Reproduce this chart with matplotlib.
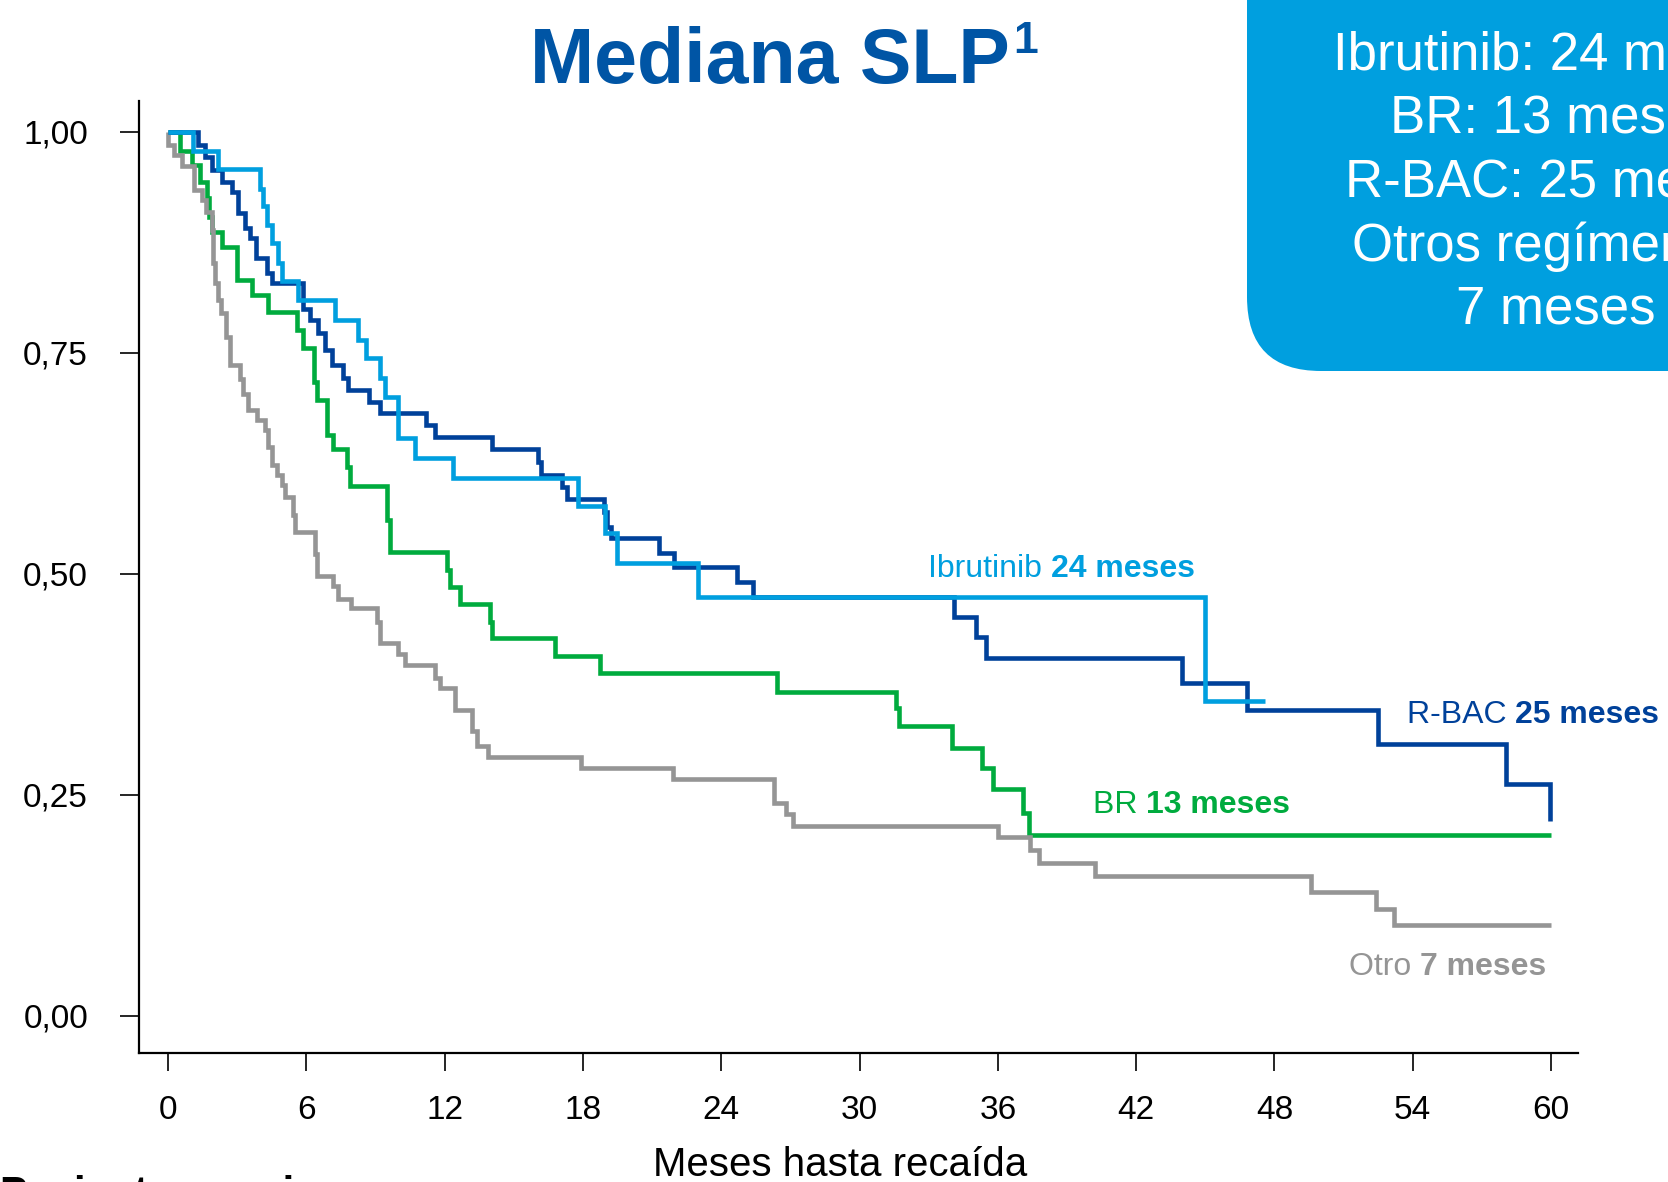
import matplotlib
matplotlib.use('Agg')
import matplotlib.pyplot as plt
from matplotlib.patches import FancyBboxPatch
from matplotlib.transforms import IdentityTransform

plt.rcParams['font.family'] = ['Liberation Sans', 'DejaVu Sans']

# grupos de tratamiento y medianas de SLP (meses)
grupos = ['Ibrutinib', 'BR', 'R-BAC', 'Otro']
medianas = [24, 13, 25, 7]

# curvas de Kaplan-Meier: tiempo de cada caída (meses) y supervivencia tras ella
ibr_t = [0, 1.08, 2.17, 3.99, 4.14, 4.31, 4.53, 4.76, 4.93, 5.65, 7.25, 8.26,
         8.6, 9.2, 9.41, 9.99, 10.72, 12.38, 17.8, 18.96, 19.5, 23.0, 45.0]
ibr_s = [1.0, 0.978, 0.958, 0.936, 0.916, 0.895, 0.874, 0.852, 0.831, 0.810,
         0.787, 0.765, 0.744, 0.722, 0.700, 0.654, 0.631, 0.608, 0.577, 0.546,
         0.512, 0.474, 0.356]
ibr_fin = 47.6

rbac_t = [0, 1.3, 1.6, 1.9, 2.34, 2.78, 3.04, 3.34, 3.56, 3.8, 4.3, 4.5, 5.86,
          6.16, 6.5, 6.8, 7.1, 7.6, 7.8, 8.7, 9.2, 11.2, 11.6, 14.06, 16.05,
          16.2, 17.1, 17.3, 18.9, 19.05, 19.2, 21.3, 21.95, 24.7, 25.4, 34.1,
          35.05, 35.5, 44.0, 46.8, 52.5, 58.05, 59.96]
rbac_s = [1.0, 0.985, 0.972, 0.957, 0.943, 0.932, 0.908, 0.891, 0.880, 0.857,
          0.840, 0.829, 0.800, 0.787, 0.773, 0.753, 0.736, 0.722, 0.708, 0.695,
          0.682, 0.669, 0.655, 0.641, 0.627, 0.612, 0.598, 0.585, 0.570, 0.553,
          0.541, 0.524, 0.508, 0.491, 0.474, 0.451, 0.429, 0.405, 0.377, 0.346,
          0.308, 0.262, 0.220]
rbac_fin = None

br_t = [0, 0.52, 1.04, 1.39, 1.7, 1.8, 1.9, 2.34, 3.0, 3.64, 4.34, 5.6, 5.86,
        6.35, 6.45, 6.9, 7.16, 7.77, 7.9, 9.5, 9.63, 12.1, 12.23, 12.67, 13.97,
        14.05, 16.8, 18.74, 26.4, 31.6, 31.7, 34.0, 35.3, 35.8, 37.1, 37.35]
br_s = [1.0, 0.978, 0.963, 0.943, 0.925, 0.904, 0.887, 0.870, 0.833, 0.816,
        0.796, 0.776, 0.756, 0.717, 0.697, 0.657, 0.641, 0.621, 0.600, 0.561,
        0.525, 0.505, 0.485, 0.466, 0.446, 0.428, 0.407, 0.388, 0.367, 0.348,
        0.328, 0.303, 0.281, 0.257, 0.230, 0.205]
br_fin = 60.0

otro_t = [0, 0, 0.26, 0.59, 1.13, 1.46, 1.65, 1.9, 1.97, 2.04, 2.18, 2.28, 2.52,
          2.69, 3.12, 3.27, 3.49, 3.85, 4.21, 4.35, 4.5, 4.71, 4.93, 5.08, 5.44,
          5.51, 6.38, 6.45, 7.14, 7.39, 7.94, 9.05, 9.2, 9.99, 10.28, 11.58,
          11.8, 12.45, 13.17, 13.39, 13.9, 17.9, 21.9, 26.3, 26.8, 27.1, 36.0,
          37.4, 37.8, 40.2, 49.6, 52.4, 53.2]
otro_s = [1.0, 0.985, 0.974, 0.961, 0.934, 0.923, 0.910, 0.889, 0.852, 0.829,
          0.810, 0.795, 0.768, 0.736, 0.721, 0.704, 0.686, 0.674, 0.663, 0.644,
          0.623, 0.612, 0.601, 0.587, 0.567, 0.547, 0.523, 0.498, 0.486, 0.472,
          0.461, 0.446, 0.422, 0.410, 0.397, 0.382, 0.371, 0.346, 0.322, 0.305,
          0.293, 0.281, 0.268, 0.241, 0.228, 0.215, 0.203, 0.188, 0.173, 0.158,
          0.140, 0.121, 0.103]
otro_fin = 60.0

c_ibr = '#009fdf'
c_rbac = '#00419a'
c_br = '#00ab3e'
c_otro = '#959595'
c_titulo = '#0055a5'

W, H = 1668, 1182
fig = plt.figure(figsize=(W / 100, H / 100), dpi=100)
ax = fig.add_axes([139 / W, 129 / H, (1578 - 139) / W, (1081 - 129) / H])


def curva(t, s, fin, color):
    x = list(t)
    y = list(s)
    if fin is not None:
        x.append(fin)
        y.append(s[-1])
    ax.step(x, y, where='post', color=color, lw=3.3,
            solid_joinstyle='miter', solid_capstyle='butt', clip_on=False)


curva(br_t, br_s, br_fin, c_br)
curva(otro_t, otro_s, otro_fin, c_otro)
curva(rbac_t, rbac_s, rbac_fin, c_rbac)
curva(ibr_t, ibr_s, ibr_fin, c_ibr)

ax.set_xlim(-1.258, 61.17)
ax.set_ylim(-0.0419, 1.035)
ax.set_xticks(range(0, 61, 6))
ax.set_yticks([0, 0.25, 0.5, 0.75, 1.0])
ax.set_yticklabels([f'{v:.2f}'.replace('.', ',') for v in ax.get_yticks()])
for side in ('top', 'right'):
    ax.spines[side].set_visible(False)
for side in ('left', 'bottom'):
    ax.spines[side].set_linewidth(1.6)
ax.tick_params(axis='y', direction='out', length=13.7, width=1.2, pad=23,
               labelsize=24)
ax.tick_params(axis='x', direction='out', length=13, width=1.2, pad=17,
               labelsize=24)

# etiquetas de cada curva: nombre normal + mediana en negrita
def etiqueta(x, y, nombre, mediana, color):
    t = ax.text(x, y, nombre + ' ', color=color, fontsize=23,
                ha='left', va='baseline', clip_on=False)
    ax.annotate(f'{mediana} meses', xy=(1, 0), xycoords=t, color=color,
                fontsize=23, fontweight='bold', ha='left', va='bottom',
                annotation_clip=False)


etiqueta(32.97, 0.497, grupos[0], medianas[0], c_ibr)
etiqueta(53.75, 0.331, grupos[2], medianas[2], c_rbac)
etiqueta(40.13, 0.2296, grupos[1], medianas[1], c_br)
etiqueta(51.24, 0.0464, grupos[3], medianas[3], c_otro)

fig.text(840 / W, 6 / H, 'Meses hasta recaída', ha='center', va='baseline',
         fontsize=29, color='black')

# título
fig.text(530 / W, (H - 83) / H, 'Mediana SLP', ha='left', va='baseline',
         fontsize=55.5, fontweight='bold', color=c_titulo)
fig.text(1013 / W, (H - 53) / H, '1', ha='left', va='baseline',
         fontsize=32, fontweight='bold', color=c_titulo)

# recuadro con las medianas
caja = FancyBboxPatch((1247, H - 371), 700, 700,
                      boxstyle='round,pad=0,rounding_size=74',
                      transform=IdentityTransform(), facecolor=c_ibr,
                      edgecolor='none')
fig.add_artist(caja)
lineas = [f'{grupos[0]}: {medianas[0]} meses',
          f'{grupos[1]}: {medianas[1]} meses',
          f'{grupos[2]}: {medianas[2]} meses',
          'Otros regímenes:',
          f'{medianas[3]} meses']
for i, linea in enumerate(lineas):
    fig.text(1556 / W, (H - 70 - 63.5 * i) / H, linea, ha='center',
             va='baseline', fontsize=38, color='white')

# pie cortado por el borde inferior
fig.text(0.0, -24 / H, 'Pacientes en riesgo', ha='left', va='baseline',
         fontsize=30, fontweight='bold', color='black')

fig.savefig('out.png', dpi=100)
